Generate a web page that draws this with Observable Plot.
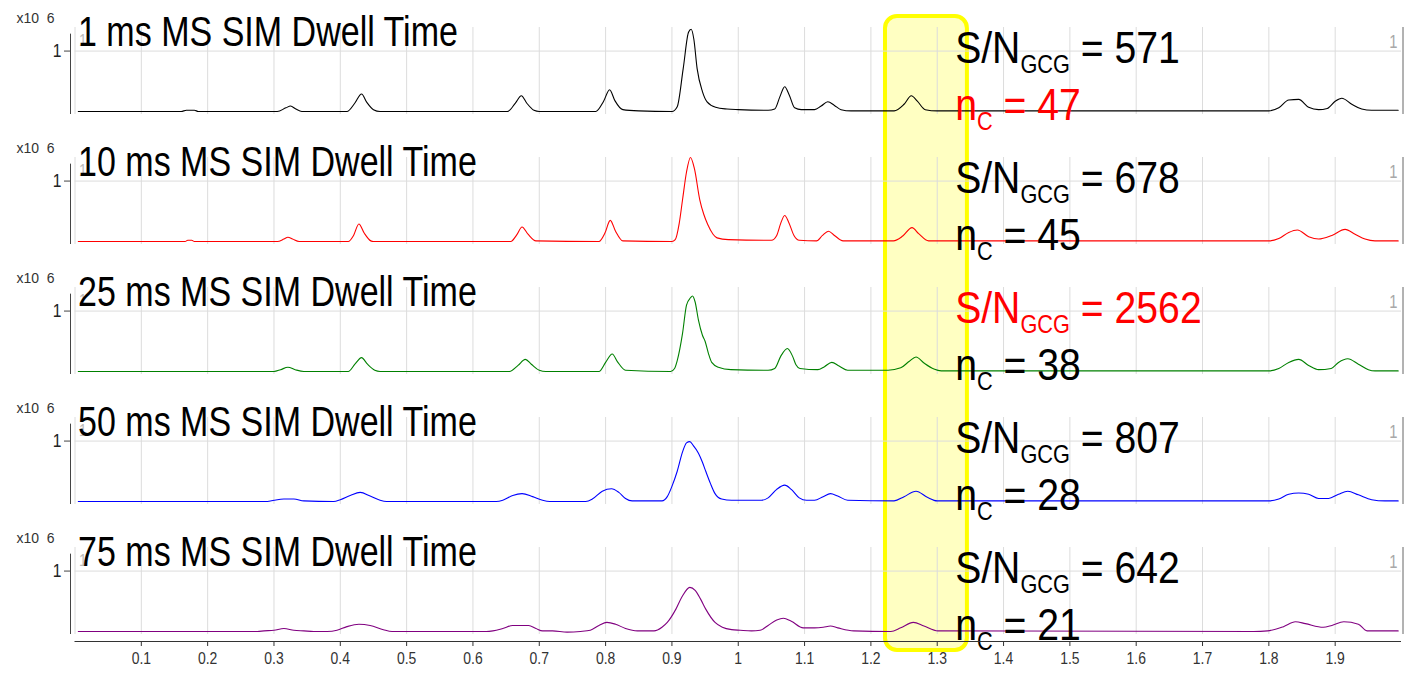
<!DOCTYPE html>
<html>
<head>
<meta charset="utf-8">
<script src="https://cdn.jsdelivr.net/npm/d3@7"></script>
<script src="https://cdn.jsdelivr.net/npm/@observablehq/plot@0.6"></script>
<style>
  html, body { margin: 0; padding: 0; background: #fff; }
  #chart { width: 1408px; height: 676px; }
</style>
</head>
<body>
<div id="chart"></div>
<script>
// ---------- data ----------
const dwellTimes = ["1 ms", "10 ms", "25 ms", "50 ms", "75 ms"];
const snGCG = [571, 678, 2562, 807, 642];
const nC = [47, 45, 38, 28, 21];
const lineColors = ["black", "red", "green", "blue", "purple"];
const xTicks = [0.1, 0.2, 0.3, 0.4, 0.5, 0.6, 0.7, 0.8, 0.9, 1.0, 1.1, 1.2, 1.3, 1.4, 1.5, 1.6, 1.7, 1.8, 1.9];
const yTicks = [1];
const yUnitLabel = "x10\u00a0\u00a06";
const highlightRange = [1.222, 1.3455]; // retention-time window of the yellow box (min)

// retention time (min), intensity (x10^6)
const trace1ms = [[0.005,0],[0.16,0],[0.168,0.02],[0.18,0.02],[0.186,0],
  [0.305,0],[0.318,0.06],[0.325,0.09],[0.333,0.04],[0.342,0],
  [0.41,0],[0.422,0.14],[0.432,0.29],[0.44,0.15],[0.45,0.03],[0.46,0],
  [0.652,0],[0.664,0.14],[0.673,0.26],[0.681,0.14],[0.692,0.02],[0.7,0],
  [0.785,0],[0.797,0.17],[0.806,0.36],[0.814,0.18],[0.826,0.03],[0.85,0.01],[0.9,0],
  [0.908,0.08],[0.917,0.71],[0.925,1.31],[0.929,1.36],[0.933,1.2],[0.938,0.71],[0.946,0.33],[0.953,0.16],[0.966,0.07],[0.983,0.04],[1.0,0.03],[1.045,0.02],
  [1.055,0.04],[1.063,0.25],[1.07,0.41],[1.077,0.27],[1.085,0.06],[1.095,0.03],[1.115,0.03],
  [1.125,0.09],[1.135,0.16],[1.145,0.1],[1.155,0.03],[1.17,0.01],[1.235,0.01],
  [1.25,0.12],[1.261,0.26],[1.27,0.17],[1.282,0.03],[1.3,0.01],[1.8,0.01],
  [1.815,0.06],[1.83,0.19],[1.845,0.2],[1.86,0.07],[1.875,0.03],[1.888,0.05],[1.9,0.17],[1.91,0.22],[1.925,0.12],[1.94,0.04],[1.955,0.02],[1.995,0.02]];

const trace10ms = [[0.005,0],[0.166,0],[0.17,0.02],[0.176,0.02],[0.18,0],
  [0.305,0],[0.315,0.04],[0.321,0.07],[0.328,0.04],[0.338,0],
  [0.412,0],[0.42,0.1],[0.428,0.29],[0.436,0.14],[0.446,0.01],[0.45,0],
  [0.657,0],[0.666,0.11],[0.674,0.24],[0.683,0.12],[0.695,0.01],
  [0.79,0],[0.799,0.14],[0.807,0.35],[0.815,0.17],[0.826,0.01],[0.9,0],
  [0.905,0.03],[0.911,0.3],[0.916,0.69],[0.922,1.15],[0.928,1.39],[0.934,1.2],[0.942,0.69],[0.948,0.45],[0.954,0.28],[0.962,0.12],[0.968,0.06],[0.985,0.03],[1.05,0.02],
  [1.058,0.1],[1.064,0.3],[1.07,0.43],[1.076,0.32],[1.084,0.1],[1.092,0.02],[1.118,0.01],
  [1.127,0.1],[1.136,0.17],[1.145,0.1],[1.158,0.01],[1.234,0.01],
  [1.248,0.09],[1.262,0.23],[1.272,0.13],[1.287,0.01],[1.8,0.01],
  [1.815,0.05],[1.83,0.15],[1.843,0.19],[1.86,0.08],[1.875,0.04],[1.895,0.1],[1.915,0.2],[1.93,0.12],[1.945,0.04],[1.96,0.01],[1.995,0.01]];

const trace25ms = [[0.005,0],[0.3,0],[0.31,0.03],[0.321,0.07],[0.332,0.03],[0.345,0],
  [0.412,0],[0.422,0.12],[0.432,0.23],[0.441,0.12],[0.452,0.02],[0.46,0],
  [0.655,0],[0.668,0.1],[0.679,0.2],[0.688,0.12],[0.7,0.02],[0.71,0],
  [0.79,0],[0.8,0.15],[0.81,0.29],[0.818,0.16],[0.83,0.02],[0.898,0],
  [0.904,0.05],[0.908,0.18],[0.916,0.63],[0.922,1.1],[0.928,1.22],[0.931,1.25],[0.935,1.15],[0.94,0.85],[0.946,0.6],[0.95,0.5],[0.955,0.3],[0.96,0.15],[0.97,0.07],[0.989,0.03],[1.045,0.02],
  [1.055,0.05],[1.064,0.25],[1.074,0.38],[1.082,0.25],[1.087,0.11],[1.093,0.05],[1.12,0.03],
  [1.13,0.08],[1.141,0.15],[1.152,0.09],[1.165,0.02],[1.226,0.02],
  [1.245,0.06],[1.258,0.17],[1.268,0.24],[1.28,0.14],[1.295,0.04],[1.306,0.01],[1.8,0.01],
  [1.815,0.05],[1.83,0.15],[1.845,0.2],[1.86,0.1],[1.875,0.03],[1.894,0.05],[1.905,0.15],[1.919,0.21],[1.935,0.12],[1.95,0.03],[1.96,0.01],[1.995,0.01]];

const trace50ms = [[0.005,0],[0.29,0],[0.3,0.02],[0.315,0.04],[0.33,0.04],[0.345,0.01],[0.39,0],
  [0.4,0.03],[0.415,0.1],[0.43,0.15],[0.445,0.09],[0.46,0.02],[0.47,0],[0.635,0],
  [0.645,0.02],[0.66,0.1],[0.674,0.13],[0.69,0.08],[0.705,0.02],[0.716,0],[0.77,0],
  [0.78,0.04],[0.795,0.17],[0.809,0.21],[0.82,0.15],[0.83,0.05],[0.84,0.01],[0.885,0.01],
  [0.893,0.08],[0.9,0.25],[0.908,0.5],[0.916,0.82],[0.922,0.97],[0.927,0.99],[0.932,0.93],[0.94,0.8],[0.946,0.65],[0.951,0.5],[0.958,0.3],[0.965,0.13],[0.975,0.04],[0.99,0.02],[1.035,0.02],
  [1.045,0.06],[1.058,0.2],[1.07,0.27],[1.08,0.2],[1.092,0.06],[1.103,0.02],[1.115,0.02],
  [1.128,0.08],[1.139,0.13],[1.15,0.09],[1.165,0.02],[1.235,0.01],
  [1.25,0.08],[1.268,0.17],[1.285,0.07],[1.3,0.01],[1.8,0.01],
  [1.815,0.04],[1.83,0.12],[1.845,0.14],[1.86,0.12],[1.875,0.05],[1.89,0.05],[1.905,0.12],[1.919,0.17],[1.935,0.11],[1.955,0.03],[1.975,0.01],[1.995,0.01]];

const trace75ms = [[0.005,0],[0.275,0],[0.285,0.01],[0.3,0.02],[0.315,0.05],[0.33,0.02],[0.345,0.01],[0.36,0],[0.38,0],
  [0.395,0.02],[0.41,0.08],[0.428,0.12],[0.445,0.1],[0.465,0.03],[0.478,0],[0.62,0],
  [0.63,0.01],[0.645,0.05],[0.66,0.1],[0.684,0.1],[0.695,0.05],[0.705,0.01],[0.72,0.01],[0.742,-0.01],[0.762,0],[0.777,0.02],
  [0.79,0.1],[0.802,0.15],[0.815,0.12],[0.83,0.05],[0.848,0.01],[0.873,0.01],
  [0.885,0.07],[0.893,0.15],[0.906,0.37],[0.915,0.57],[0.927,0.73],[0.935,0.68],[0.943,0.54],[0.951,0.37],[0.965,0.15],[0.976,0.07],[0.99,0.03],[1.003,0.02],[1.02,0.01],[1.033,0.02],
  [1.045,0.1],[1.058,0.19],[1.068,0.22],[1.08,0.17],[1.098,0.06],[1.115,0.06],[1.128,0.07],[1.139,0.09],[1.15,0.06],[1.174,0.01],[1.23,0],
  [1.245,0.06],[1.264,0.15],[1.28,0.09],[1.301,0.01],[1.777,0],[1.798,0.01],
  [1.822,0.08],[1.84,0.16],[1.855,0.13],[1.882,0.07],[1.895,0.1],[1.913,0.16],[1.935,0.12],[1.948,0.01],[1.995,0.01]];

const traces = [trace1ms, trace10ms, trace25ms, trace50ms, trace75ms];

// ---------- build tables ----------
const maxSN = d3.max(snGCG), maxNC = d3.max(nC);
const panels = dwellTimes.map((d, i) => ({
  dwell: d, sn: snGCG[i], nc: nC[i], color: lineColors[i],
  title: `${d} MS SIM Dwell Time`
}));
const points = traces.flatMap((t, i) => t.map(([x, y]) => ({dwell: dwellTimes[i], color: lineColors[i], x, y})));
const labelX = 1.327;
const FONT = "'Liberation Sans', Arial, sans-serif";
const M = {top: 25, bottom: 40, left: 74.5, right: 7};
const W = 1408, H = 676;

const chart = Plot.plot({
  width: W, height: H,
  marginLeft: M.left, marginRight: M.right, marginTop: M.top, marginBottom: M.bottom,
  style: {fontFamily: FONT, background: "white", color: "#222"},
  x: {domain: [0, 2], axis: null},
  y: {domain: [-0.05, 1.39], axis: null},
  fy: {domain: dwellTimes, paddingInner: 0.327, paddingOuter: 0, axis: null},
  color: {type: "identity"},
  marks: [
    Plot.ruleX([0, ...xTicks], {stroke: "#dcdcdc"}),
    Plot.ruleY(yTicks, {stroke: "#dcdcdc"}),
    Plot.ruleX([0], {y1: 1.28, y2: -0.05, dx: -4.5, stroke: "#444"}),
    Plot.ruleX([2], {dx: 1.5, stroke: "#666"}),
    Plot.axisY({anchor: "left", ticks: yTicks, tickFormat: d3.format("~g"), tickSize: 6, tickPadding: 3, dx: -4.5, fontSize: 19, label: null, stroke: "#444", fill: "#222"}),
    Plot.text(yTicks, {y: d => d, frameAnchor: "right", text: d => String(d), textAnchor: "end", dx: -4, dy: -9, fill: "#a8a8a8", fontSize: 18}),
    Plot.text(yTicks, {y: d => d, frameAnchor: "left", text: d => String(d), textAnchor: "start", dx: 4, dy: -11, fill: "#bbb", fontSize: 17}),
    Plot.text([yUnitLabel], {frameAnchor: "top-left", text: d => d, textAnchor: "start", lineAnchor: "bottom", dx: -58.5, dy: -4.3, fontSize: 14, fill: "#333"}),
    Plot.line(points, {x: "x", y: "y", fy: "dwell", z: "dwell", stroke: "color", strokeWidth: 1.1, curve: "monotone-x"}),
    Plot.text(panels, {fy: "dwell", text: "title", frameAnchor: "top-left", textAnchor: "start", lineAnchor: "bottom", dx: 3, dy: 18.5, fontSize: 42, fill: "black"}),
    Plot.text(panels, {fy: "dwell", x: () => labelX, frameAnchor: "top", text: d => `S/N_{GCG} = ${d.sn}`, textAnchor: "start", lineAnchor: "bottom", dy: 35, fontSize: 45, fill: d => d.sn === maxSN ? "red" : "black"}),
    Plot.text(panels, {fy: "dwell", x: () => labelX, frameAnchor: "top", text: d => `n_{C} = ${d.nc}`, textAnchor: "start", lineAnchor: "bottom", dy: 92, fontSize: 45, fill: d => d.nc === maxNC ? "red" : "black"}),
    Plot.axisX({anchor: "bottom", ticks: xTicks, tickFormat: d3.format("~g"), tickSize: 5, tickPadding: 5, dy: 7, fontSize: 17, label: null, stroke: "#333", fill: "#333"}),
    Plot.ruleY([dwellTimes[dwellTimes.length - 1]], {fy: d => d, y: () => -0.05, dy: 7, stroke: "#333"})
  ]
});

const NS = "http://www.w3.org/2000/svg";

// highlight box spanning all panels, positioned with Plot's own x scale
const xs = chart.scale("x");
const bx1 = xs.apply(highlightRange[0]), bx2 = xs.apply(highlightRange[1]);
const box = document.createElementNS(NS, "rect");
box.setAttribute("x", bx1);
box.setAttribute("width", bx2 - bx1);
box.setAttribute("y", M.top - 9);
box.setAttribute("height", (H - M.bottom + 14) - (M.top - 9));
box.setAttribute("rx", 12);
box.setAttribute("fill", "#ffffc2");
box.setAttribute("stroke", "#ffff00");
box.setAttribute("stroke-width", 4);
chart.insertBefore(box, chart.querySelector(":scope > g"));

// subscripts: turn "X_{sub}" into tspans
chart.querySelectorAll("text").forEach(t => {
  const s = t.textContent;
  if (!s.includes("_{")) return;
  const parts = s.split(/_\{([^}]*)\}/);
  t.textContent = "";
  parts.forEach((p, i) => {
    if (!p) return;
    const ts = document.createElementNS(NS, "tspan");
    ts.textContent = i % 2 === 1 ? p : (i > 0 ? "\u00a0" + p.trimStart() : p);
    if (i % 2 === 1) { ts.setAttribute("font-size", "25"); ts.setAttribute("dy", "10"); }
    else if (i > 0) { ts.setAttribute("dy", "-10"); }
    t.appendChild(ts);
  });
});
document.getElementById("chart").appendChild(chart);

// condensed look: compress glyphs horizontally (no condensed font installed)
chart.querySelectorAll("text").forEach(t => {
  const fs = parseFloat(getComputedStyle(t).fontSize);
  let k = 0.82;
  if (fs >= 44) k = 0.87; else if (fs >= 40) k = 0.81; else if (fs < 15) k = 1;
  if (k === 1) return;
  const w = t.getComputedTextLength();
  if (w > 0) { t.setAttribute("textLength", w * k); t.setAttribute("lengthAdjust", "spacingAndGlyphs"); }
});
</script>
</body>
</html>
